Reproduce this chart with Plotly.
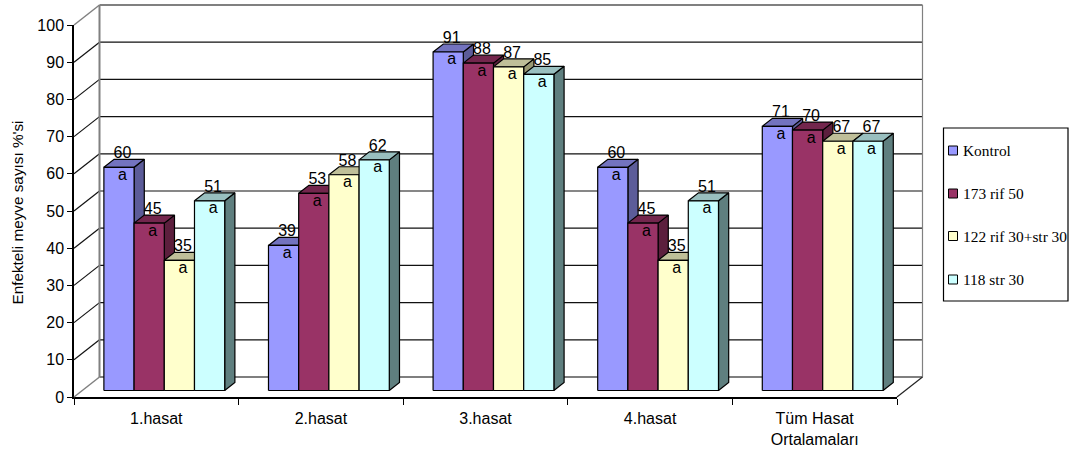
import plotly.graph_objects as go

categories = ["1.hasat", "2.hasat", "3.hasat", "4.hasat", "Tüm Hasat<br>Ortalamaları"]
series_names = ["Kontrol", "173 rif 50", "122 rif 30+str 30", "118 str 30"]
kontrol = [60, 39, 91, 60, 71]
rif_173 = [45, 53, 88, 45, 70]
rif_str_122 = [35, 58, 87, 35, 67]
str_118 = [51, 62, 85, 51, 67]
series_values = [kontrol, rif_173, rif_str_122, str_118]
value_ticks = list(range(0, 101, 10))

front_colors = ["#9999FF", "#993366", "#FFFFCC", "#CCFFFF"]
top_colors = ["#7373BF", "#73264D", "#BFBF99", "#99BFBF"]
side_colors = ["#5C5C99", "#5C1F3D", "#999973", "#5F7F7F"]

# Axis frame in pixels; the marks themselves are placed in axis units.
W, H = 1076, 450
LEFT, RIGHT, TOP, BOTTOM = 74, 897, 25, 397
PX_X = (RIGHT - LEFT) / 5
PX_Y = (BOTTOM - TOP) / 100

# Oblique projection of the chart's depth onto the axes.
DEPTH_X = 25.5 / PX_X
DEPTH_Y = 20 / PX_Y
BAR_NEAR, BAR_FAR = 0.325, 0.725
BAR_WIDTH = 30.2 / PX_X
BAR_GAP = 21.6 / PX_X


def add(trace):
    # The walls and bars live on a full-page overlay with the same scale as the
    # visible axes, because line traces are always clipped to their subplot.
    trace.update(xaxis="x2", yaxis="y2", showlegend=False, hoverinfo="skip", cliponaxis=False)
    fig.add_trace(trace)


def wall_line(xs, ys, color, width):
    add(go.Scatter(x=xs, y=ys, mode="lines", line=dict(color=color, width=width)))


fig = go.Figure()
# Empty trace keeps the visible axes alive
fig.add_trace(go.Scatter(x=[], y=[], showlegend=False))

# Back wall gridlines and the diagonals on the side wall
for t in value_ticks:
    if 0 < t < 100:
        wall_line([DEPTH_X, 5 + DEPTH_X], [t + DEPTH_Y] * 2, "#111111", 1.2)
        wall_line([0, DEPTH_X], [t, t + DEPTH_Y], "#111111", 1.2)
wall_line([DEPTH_X, 5 + DEPTH_X], [DEPTH_Y] * 2, "#555555", 1.3)
wall_line([0, DEPTH_X], [100, 100 + DEPTH_Y], "#808080", 1.5)
wall_line([0, DEPTH_X], [0, DEPTH_Y], "#808080", 1.5)
wall_line([DEPTH_X, DEPTH_X], [DEPTH_Y, 100 + DEPTH_Y], "#808080", 2)
wall_line([DEPTH_X, 5 + DEPTH_X], [100 + DEPTH_Y] * 2, "#808080", 2)
wall_line([5 + DEPTH_X, 5 + DEPTH_X], [DEPTH_Y, 100 + DEPTH_Y], "#808080", 1.2)
wall_line([5, 5 + DEPTH_X], [0, DEPTH_Y], "#222222", 1.2)


def face(xs, ys, color):
    add(go.Scatter(x=xs, y=ys, mode="lines", fill="toself", fillcolor=color,
                   line=dict(color="#000000", width=1.2)))


# Bars are painted left to right so each one overlaps its left neighbour's side
near_x, near_y = BAR_NEAR * DEPTH_X, BAR_NEAR * DEPTH_Y
dx, dy = (BAR_FAR - BAR_NEAR) * DEPTH_X, (BAR_FAR - BAR_NEAR) * DEPTH_Y
for s, values in enumerate(series_values):
    side_x, side_y, top_x, top_y, front_x, front_y = [], [], [], [], [], []
    for c, v in enumerate(values):
        x0 = c + BAR_GAP + s * BAR_WIDTH + near_x
        x1 = x0 + BAR_WIDTH
        y0 = near_y
        y1 = v + near_y
        side_x += [x1, x1 + dx, x1 + dx, x1, x1, None]
        side_y += [y0, y0 + dy, y1 + dy, y1, y0, None]
        top_x += [x0, x0 + dx, x1 + dx, x1, x0, None]
        top_y += [y1, y1 + dy, y1 + dy, y1, y1, None]
        front_x += [x0, x1, x1, x0, x0, None]
        front_y += [y0, y0, y1, y1, y0, None]
    face(side_x, side_y, side_colors[s])
    face(top_x, top_y, top_colors[s])
    face(front_x, front_y, front_colors[s])

# Value labels above each bar and the significance letter just inside its top
label_font = dict(family="Liberation Sans, Arial, sans-serif", size=16, color="#000000")
for s, values in enumerate(series_values):
    centers = [c + BAR_GAP + (s + 0.5) * BAR_WIDTH + near_x + 3.5 / PX_X for c in range(5)]
    add(go.Scatter(x=centers, y=[v + near_y + 13 / PX_Y for v in values],
                   text=[str(v) for v in values], mode="text",
                   textposition="middle center", textfont=label_font))
    add(go.Scatter(x=centers, y=[v + near_y - 8.5 / PX_Y for v in values],
                   text=["a"] * 5, mode="text",
                   textposition="middle center", textfont=label_font))

# Boxed legend to the right of the plot
shapes = [dict(type="rect", xref="paper", yref="paper", x0=943.5 / W, x1=1068 / W,
               y0=1 - 301 / H, y1=1 - 128 / H, line=dict(color="#000000", width=1.2),
               fillcolor="#FFFFFF")]
annotations = [dict(xref="paper", yref="paper", x=17 / W, y=1 - 212.5 / H,
                    text="Enfekteli meyve sayısı %'si", textangle=-90, showarrow=False,
                    xanchor="center", yanchor="middle",
                    font=dict(family="Liberation Sans, Arial, sans-serif", size=15.3,
                              color="#000000"))]
legend_rows = [150.5, 193.5, 236, 279.5]
for name, color, row in zip(series_names, front_colors, legend_rows):
    shapes.append(dict(type="rect", xref="paper", yref="paper", x0=948.5 / W, x1=957.5 / W,
                       y0=1 - (row + 4.5) / H, y1=1 - (row - 4.5) / H, fillcolor=color,
                       line=dict(color="#000000", width=1)))
    annotations.append(dict(xref="paper", yref="paper", x=961 / W, y=1 - row / H, text=name,
                            showarrow=False, xanchor="left", yanchor="middle",
                            font=dict(family="Liberation Serif, Times New Roman, serif",
                                      size=15.4, color="#000000")))

axis_font = dict(family="Liberation Sans, Arial, sans-serif", size=16, color="#000000")
fig.update_layout(
    width=W, height=H, autosize=False,
    margin=dict(l=0, r=0, t=0, b=0, pad=0),
    paper_bgcolor="#FFFFFF", plot_bgcolor="rgba(0,0,0,0)",
    showlegend=False, shapes=shapes, annotations=annotations,
    xaxis=dict(domain=[LEFT / W, RIGHT / W], range=[0, 5], automargin=False,
               tickmode="array", tickvals=[0.5, 1.5, 2.5, 3.5, 4.5],
               ticktext=categories, ticks="", showgrid=False, zeroline=False,
               showline=True, linecolor="#000000", linewidth=1.5, tickfont=axis_font,
               ticklabelstandoff=6, tickangle=0, anchor="y",
               minor=dict(tickmode="array", tickvals=[0, 1, 2, 3, 4, 5], ticks="outside",
                          ticklen=6, tickwidth=1.2, tickcolor="#000000", showgrid=False)),
    yaxis=dict(domain=[1 - BOTTOM / H, 1 - TOP / H], range=[0, 100], automargin=False,
               tickmode="array", tickvals=value_ticks, showgrid=False, anchor="x",
               zeroline=False, showline=True, linecolor="#000000", linewidth=1.5,
               ticks="outside", ticklen=5, tickwidth=1.2, tickcolor="#000000",
               tickfont=axis_font),
    xaxis2=dict(domain=[0, 1], range=[-LEFT / PX_X, (W - LEFT) / PX_X], visible=False,
                anchor="y2", automargin=False),
    yaxis2=dict(domain=[0, 1], range=[-(H - BOTTOM) / PX_Y, BOTTOM / PX_Y], visible=False,
                anchor="x2", automargin=False),
)

fig.write_html("out.html")
